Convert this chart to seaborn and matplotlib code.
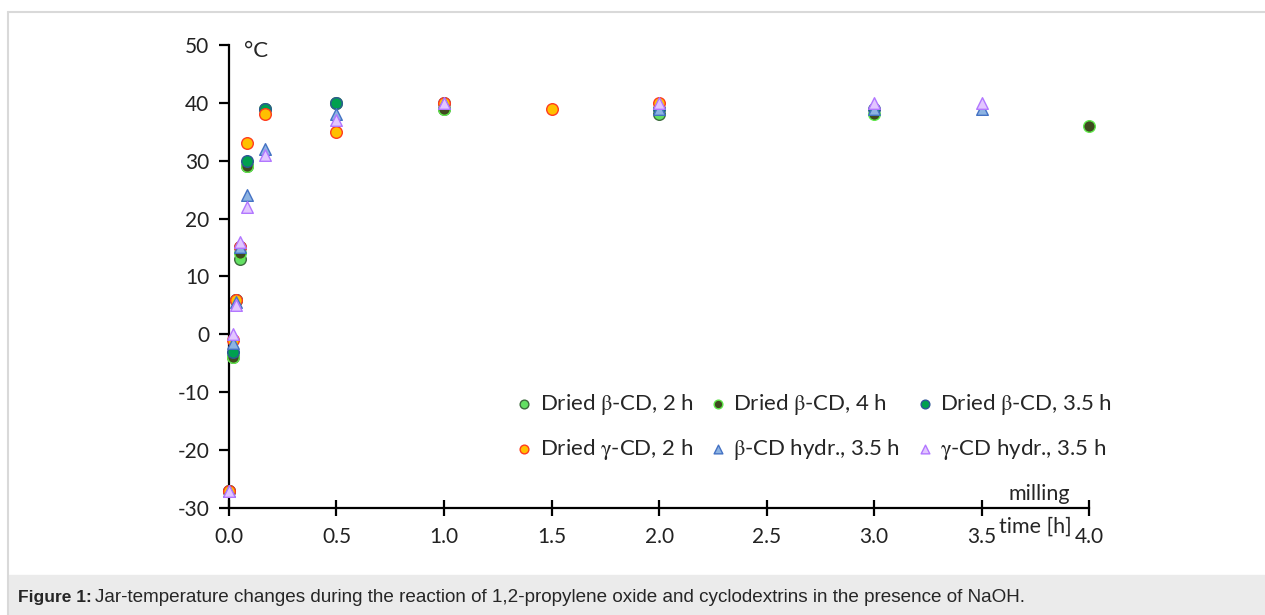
import matplotlib
matplotlib.use("Agg")
import matplotlib.pyplot as plt
import numpy as np
import pandas as pd
import seaborn as sns

# milling time in hours (1, 2, 3, 5, 10 min, then 0.5 h steps)
t_beta_2h = [0, 1 / 60, 2 / 60, 3 / 60, 5 / 60, 10 / 60, 0.5, 1.0, 2.0]
temp_beta_2h = [-27, -4, 6, 13, 29, 39, 40, 39, 38]

t_beta_4h = [0, 1 / 60, 2 / 60, 3 / 60, 5 / 60, 10 / 60, 0.5, 1.0, 2.0, 3.0, 4.0]
temp_beta_4h = [-27, -4, 6, 14, 29, 39, 40, 39, 39, 38, 36]

t_beta_35h = [0, 1 / 60, 2 / 60, 3 / 60, 5 / 60, 10 / 60, 0.5, 1.0, 2.0, 3.0]
temp_beta_35h = [-27, -3, 6, 15, 30, 39, 40, 40, 39, 39]

t_gamma_2h = [0, 1 / 60, 2 / 60, 3 / 60, 5 / 60, 10 / 60, 0.5, 1.0, 1.5, 2.0]
temp_gamma_2h = [-27, -1, 6, 15, 33, 38, 35, 40, 39, 40]

t_beta_hydr = [0, 1 / 60, 2 / 60, 3 / 60, 5 / 60, 10 / 60, 0.5, 1.0, 2.0, 3.0, 3.5]
temp_beta_hydr = [-27, -1.5, 5.5, 15, 24, 32, 38, 40, 39, 39, 39]

t_gamma_hydr = [0, 1 / 60, 2 / 60, 3 / 60, 5 / 60, 10 / 60, 0.5, 1.0, 2.0, 3.0, 3.5]
temp_gamma_hydr = [-27, 0, 5, 16, 22, 31, 37, 40, 40, 40, 40]

labels = [
    r"Dried $\mathrm{\beta}$-CD, 2 h",
    r"Dried $\mathrm{\beta}$-CD, 4 h",
    r"Dried $\mathrm{\beta}$-CD, 3.5 h",
    r"Dried $\mathrm{\gamma}$-CD, 2 h",
    r"$\mathrm{\beta}$-CD hydr., 3.5 h",
    r"$\mathrm{\gamma}$-CD hydr., 3.5 h",
]
x_ticks = [0.0, 0.5, 1.0, 1.5, 2.0, 2.5, 3.0, 3.5, 4.0]
y_ticks = [-30, -20, -10, 0, 10, 20, 30, 40, 50]

series = [
    (t_beta_2h, temp_beta_2h),
    (t_beta_4h, temp_beta_4h),
    (t_beta_35h, temp_beta_35h),
    (t_gamma_2h, temp_gamma_2h),
    (t_beta_hydr, temp_beta_hydr),
    (t_gamma_hydr, temp_gamma_hydr),
]
frames = []
for lab, (t, v) in zip(labels, series):
    frames.append(pd.DataFrame({"time": t, "temp": v, "series": lab}))
df = pd.concat(frames, ignore_index=True)

# marker style per series: (marker, face, edge)
styles = {
    labels[0]: ("o", "#63e063", "#3d6b3d"),
    labels[1]: ("o", "#3f4a1f", "#5fe84a"),
    labels[2]: ("o", "#00a04f", "#2f5597"),
    labels[3]: ("o", "#ffc000", "#ff3c1e"),
    labels[4]: ("^", "#8db3e2", "#4472c4"),
    labels[5]: ("^", "#e2c6ff", "#b277ff"),
}

sns.set_style("white")
plt.rcParams["font.family"] = ["Lato", "DejaVu Sans"]
plt.rcParams["mathtext.fontset"] = "stix"
plt.rcParams["axes.unicode_minus"] = False

fig = plt.figure(figsize=(12.65, 6.15), dpi=100)
ax = fig.add_axes([0.181, 0.174, 0.680, 0.753])

for lab in labels:
    m, fc, ec = styles[lab]
    sns.scatterplot(
        data=df[df["series"] == lab], x="time", y="temp", ax=ax,
        marker=m, color=fc, edgecolor=ec, linewidth=1.0, s=70, label=lab,
        zorder=3, clip_on=False,
    )

ax.set_xlim(0, 4.0)
ax.set_ylim(-30, 50)
ax.set_xticks(x_ticks)
ax.set_yticks(y_ticks)
ax.set_xticklabels([f"{v:.1f}" for v in x_ticks])
ax.set_xlabel("")
ax.set_ylabel("")
for side in ["top", "right"]:
    ax.spines[side].set_visible(False)
for side in ["left", "bottom"]:
    ax.spines[side].set_linewidth(1.6)
    ax.spines[side].set_color("black")
ax.tick_params(axis="x", bottom=True, direction="inout", length=12, width=1.6,
               labelsize=15, pad=8, colors="#222222")
ax.tick_params(axis="y", left=True, direction="out", length=7, width=1.6,
               labelsize=15, pad=7, colors="#222222")
ax.tick_params(axis="both", color="black")
ax.set_facecolor("none")

ax.text(0.07, 49, "°C", fontsize=16, va="center", ha="left")
ax.text(3.77, -27.5, "milling", fontsize=15.5, ha="center", va="center")
ax.text(3.75, -33.2, "time [h]", fontsize=15.5, ha="center", va="center")

h, l = ax.get_legend_handles_labels()
order = [0, 3, 1, 4, 2, 5]
ax.legend(
    [h[i] for i in order], [l[i] for i in order],
    ncol=3, loc="upper left", bbox_to_anchor=(0.388, 0.395),
    bbox_transform=fig.transFigure, frameon=False, fontsize=16,
    markerscale=0.75, handletextpad=0.1, columnspacing=0.5, labelspacing=0.9,
    handlelength=1.2,
)

# page frame and caption band
fig.add_artist(plt.Line2D([8 / 1265, 8 / 1265], [0, 1 - 12 / 615], transform=fig.transFigure, color="#d9d9d9", lw=1.5))
fig.add_artist(plt.Line2D([8 / 1265, 1], [1 - 12 / 615, 1 - 12 / 615], transform=fig.transFigure, color="#d9d9d9", lw=1.5))
fig.add_artist(plt.Rectangle((9 / 1265, 0), 1, 40 / 615, transform=fig.transFigure, color="#ebebeb", zorder=0))
fig.text(18 / 1265, 13 / 615, "Figure 1:", family="Liberation Sans", weight="bold", fontsize=12.5, va="baseline")
fig.text(95 / 1265, 13 / 615,
         "Jar-temperature changes during the reaction of 1,2-propylene oxide and cyclodextrins in the presence of NaOH.",
         family="Liberation Sans", fontsize=13.6, va="baseline")

fig.savefig("out.png", dpi=100)
